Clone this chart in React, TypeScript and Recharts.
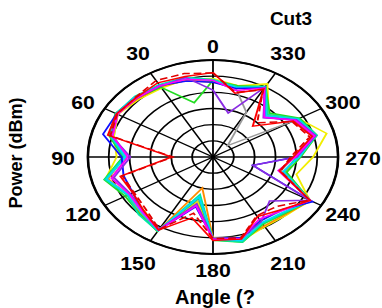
import React from "react";
import { RadarChart, Radar, PolarGrid, PolarAngleAxis, PolarRadiusAxis } from "recharts";

const angles = ["0","15","30","45","60","75","90","105","120","135","150","165","180","195","210","225","240","255","270","285","300","315","330","345"];
const gridAngles = [0,30,60,90,120,150,180,210,240,270,300,330];
const radiusDomain = [-60, 0];

const gray =      [-13.2,-10.8,-9.6,-8.4,-7.2,-10.8,-18.6,-9.6,-13.8,-12.6,-8.4,-31.8,-10.2,-8.4,-14.4,-13.2,-6.8,-26.4,-21.0,-10.2,-15.0,-50.0,-28.0,-16.8];
const yellow =    [-11.4,-10.2,-10.8,-9.6,-7.2,-10.8,-13.8,-6.6,-13.8,-13.2,-7.8,-31.2,-10.2,-6.6,-10.2,-9.6,-6.4,-18.6,-12.0,-3.6,-12.6,-22.2,-7.8,-14.4];
const orange =    [-13.8,-10.8,-9.6,-9.0,-6.6,-10.2,-17.4,-8.0,-12.6,-10.8,-6.8,-40.2,-9.6,-7.2,-10.8,-10.2,-5.8,-24.0,-19.8,-9.6,-13.8,-23.4,-10.8,-14.4];
const green =     [-12.6,-25.2,-10.2,-7.8,-6.0,-8.4,-16.8,-6.0,-11.4,-10.2,-6.8,-33.6,-8.4,-5.4,-12.0,-10.8,-6.2,-23.4,-18.0,-8.4,-12.0,-21.6,-9.6,-14.4];
const turquoise = [-12.0,-9.0,-8.4,-7.0,-6.2,-9.0,-17.4,-6.4,-12.6,-9.6,-7.0,-36.0,-8.8,-5.6,-12.6,-11.4,-6.0,-24.6,-19.8,-8.4,-12.6,-22.8,-9.6,-15.0];
const cyan =      [-12.6,-9.6,-9.0,-7.4,-6.4,-9.6,-18.0,-7.2,-13.2,-11.4,-7.4,-34.2,-9.0,-6.6,-13.2,-12.0,-6.0,-25.2,-18.6,-9.0,-13.2,-24.0,-10.2,-15.6];
const blue =      [-13.8,-11.4,-9.0,-8.4,-6.6,-5.4,-16.2,-15.6,-15.6,-12.6,-7.8,-28.2,-9.6,-8.4,-14.4,-13.8,-4.8,-40.2,-20.4,-9.6,-14.4,-25.2,-10.8,-16.2];
const violet =    [-18.6,-9.0,-9.6,-7.8,-6.6,-9.6,-20.4,-10.8,-14.4,-12.6,-8.4,-30.0,-9.6,-7.8,-13.8,-21.6,-6.4,-40.2,-19.8,-9.0,-13.8,-25.8,-10.2,-31.8];
const magenta =   [-12.6,-10.2,-9.0,-8.4,-7.2,-10.2,-19.2,-9.6,-13.8,-12.0,-7.8,-28.8,-9.0,-7.8,-15.6,-13.2,-6.2,-27.6,-20.4,-9.6,-14.4,-25.2,-10.8,-17.4];
const red =       [-7.8,-8.4,-7.0,-8.0,-6.6,-7.8,-40.2,-14.0,-15.6,-13.0,-7.8,-21.0,-8.4,-7.4,-17.4,-13.8,-6.2,-27.0,-21.6,-10.8,-15.6,-33.0,-11.4,-19.2];
const redDashed = [-8.0,-6.6,-5.4,-7.6,-7.0,-9.0,-40.8,-15.0,-16.2,-14.4,-8.4,-24.0,-9.6,-8.2,-18.0,-16.8,-6.6,-26.4,-22.8,-12.0,-16.2,-30.0,-12.0,-18.6];

const series = [
  { key: "gray", values: gray, color: "#9a9a9a", dash: undefined },
  { key: "yellow", values: yellow, color: "#f2ee00", dash: undefined },
  { key: "orange", values: orange, color: "#ff8c00", dash: undefined },
  { key: "green", values: green, color: "#22dd22", dash: undefined },
  { key: "turquoise", values: turquoise, color: "#00e8a8", dash: undefined },
  { key: "cyan", values: cyan, color: "#00d8ff", dash: undefined },
  { key: "blue", values: blue, color: "#1010ff", dash: undefined },
  { key: "violet", values: violet, color: "#8a2be2", dash: undefined },
  { key: "magenta", values: magenta, color: "#ff00ff", dash: undefined },
  { key: "red", values: red, color: "#ff0000", dash: undefined },
  { key: "redDashed", values: redDashed, color: "#e00000", dash: "6 3" },
];

const data = angles.map((a, i) => {
  const row: any = { angle: a };
  series.forEach((s) => { row[s.key] = s.values[i]; });
  return row;
});

const W = 382, H = 308;
const SX = 1.29;
const CXF = 213, CY = 157, R = 97;
const CX0 = CXF / SX;
const FONT = '"Liberation Sans", Arial, Helvetica, sans-serif';

function AngleTick(props: any) {
  const { payload } = props;
  const v = Number(payload.value);
  if (v % 30 !== 0) return null;
  const t = (v * Math.PI) / 180;
  const ux = -Math.sin(t), uy = -Math.cos(t);
  const nearVertical = v % 180 === 30 || v % 180 === 150;
  const fx = CXF + 150 * ux;
  const fy = CY + 1 + 112 * uy + (nearVertical ? 8 * Math.sign(uy) : 0);
  return (
    <text x={0} y={0} transform={`translate(${fx / SX},${fy}) scale(${1.12 / SX},1)`}
      textAnchor="middle" dominantBaseline="central" fill="#000"
      style={{ fontFamily: FONT, fontWeight: "bold", fontSize: 19 }}>
      {payload.value}
    </text>
  );
}

export default function App() {
  return (
    <div style={{ position: "absolute", left: 0, top: 0, width: W, height: H, background: "#fff", overflow: "hidden" }}>
      <div style={{ position: "absolute", left: 0, top: 0, transform: `scaleX(${SX})`, transformOrigin: "0 0" }}>
        <RadarChart width={W / SX} height={H} cx={CX0} cy={CY} outerRadius={R} data={data}
          startAngle={75} endAngle={435} margin={{ top: 0, right: 0, bottom: 0, left: 0 }}>
          <PolarGrid gridType="circle" polarAngles={gridAngles} stroke="#000" strokeWidth={1.4} strokeOpacity={1} />
          <PolarRadiusAxis domain={radiusDomain} tickCount={7} tick={false} axisLine={false} type="number" />
          <PolarAngleAxis dataKey="angle" tick={<AngleTick />} tickLine={false}
            axisLine={{ stroke: "#000", strokeWidth: 2 }} axisLineType="circle" />
          {series.map((s) => (
            <Radar key={s.key} dataKey={s.key} stroke={s.color} strokeWidth={1.5} strokeDasharray={s.dash}
              fill="none" fillOpacity={0} dot={false} isAnimationActive={false} />
          ))}
        </RadarChart>
      </div>
      <svg width={W} height={H} style={{ position: "absolute", left: 0, top: 0, pointerEvents: "none" }}>
        <text x={291} y={18} textAnchor="middle" dominantBaseline="central"
          style={{ fontFamily: FONT, fontWeight: "bold", fontSize: 19 }}>Cut3</text>
        <text x={0} y={0} transform="translate(16,153) rotate(-90)" textAnchor="middle" dominantBaseline="central"
          style={{ fontFamily: FONT, fontWeight: "bold", fontSize: 18 }}>Power (dBm)</text>
        <text x={215} y={297} textAnchor="middle" dominantBaseline="central"
          style={{ fontFamily: FONT, fontWeight: "bold", fontSize: 20 }}>Angle (?</text>
      </svg>
    </div>
  );
}
